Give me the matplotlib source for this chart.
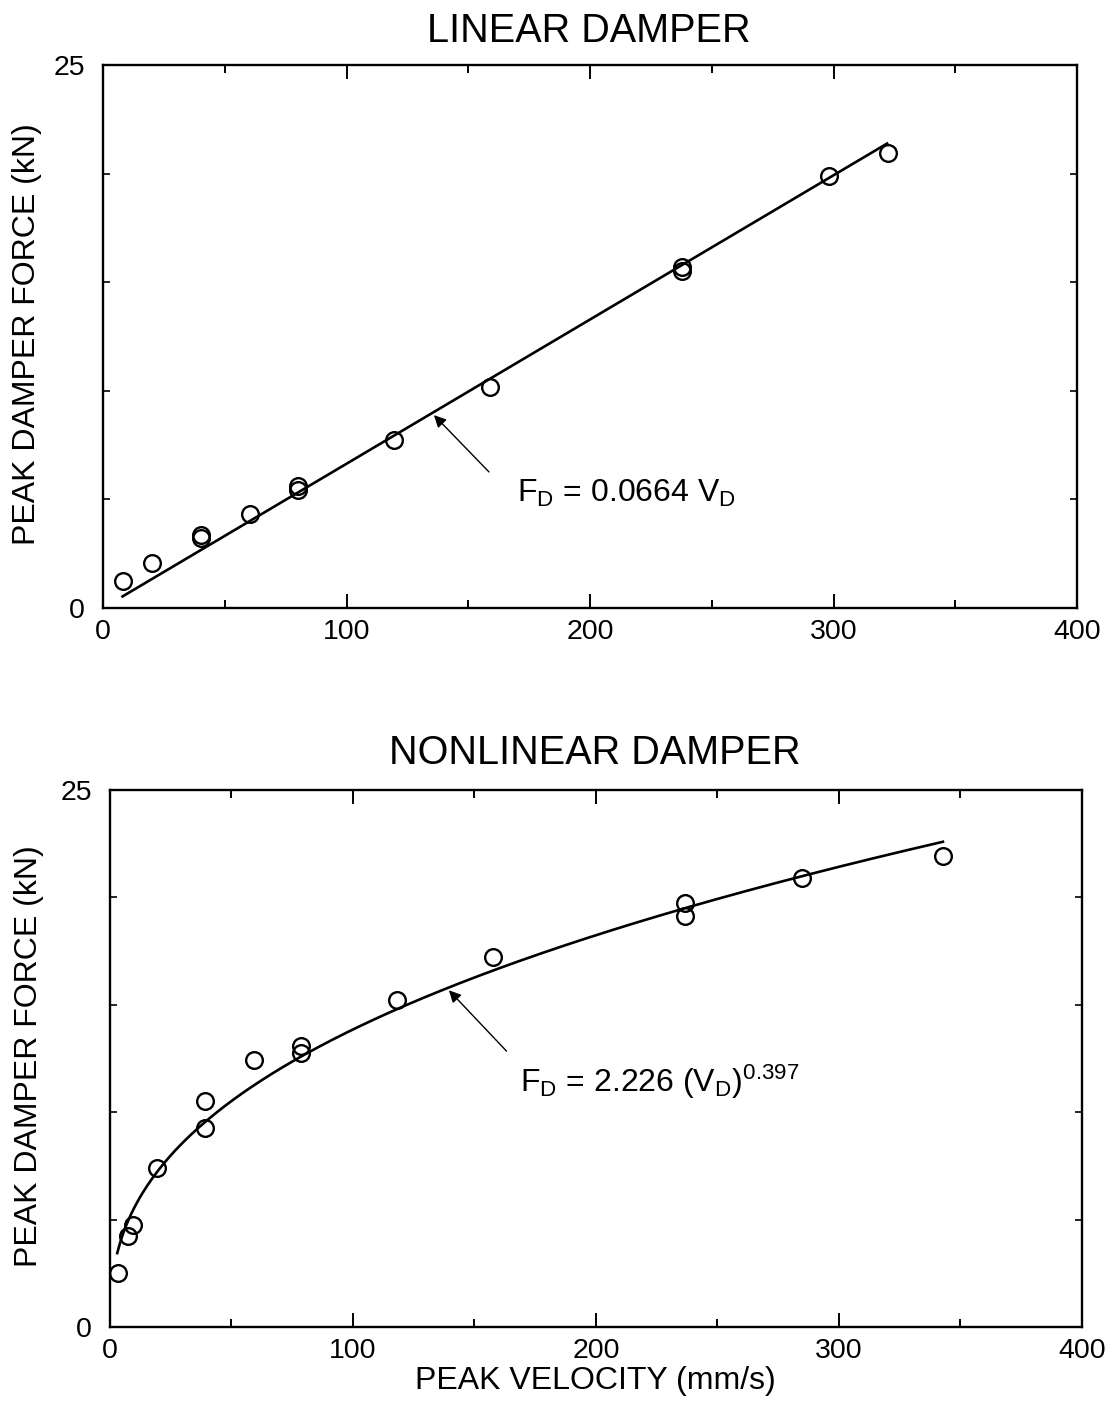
import numpy as np
import matplotlib
matplotlib.use("Agg")
import matplotlib.pyplot as plt
from matplotlib.ticker import FixedLocator

plt.rcParams['font.family'] = ['Liberation Sans', 'DejaVu Sans']
plt.rcParams['mathtext.fontset'] = 'custom'
plt.rcParams['mathtext.rm'] = 'Liberation Sans'
plt.rcParams['mathtext.it'] = 'Liberation Sans:italic'

# Linear damper test data (peak velocity mm/s, peak force kN)
lin_velocity = [8.2, 20.1, 40.2, 40.2, 60.4, 80.1, 80.1, 119.5, 159.0, 237.8, 237.8, 298.2, 322.4]
lin_force = [1.24, 2.07, 3.20, 3.34, 4.33, 5.45, 5.60, 7.73, 10.17, 15.70, 15.52, 19.89, 20.95]
lin_coef = 0.0664
lin_fit_range = (8.0, 322.0)

# Nonlinear damper test data
nl_velocity = [3.3, 7.4, 9.5, 19.3, 39.1, 39.1, 59.3, 78.6, 78.6, 118.0, 157.6, 236.6, 236.6, 284.8, 342.8]
nl_force = [2.51, 4.24, 4.75, 7.40, 10.52, 9.26, 12.43, 13.08, 12.76, 15.22, 17.23, 19.74, 19.13, 20.90, 21.93]
nl_coef = 2.226
nl_exp = 0.397
nl_fit_range = (3.0, 342.8)

x_major = [0, 100, 200, 300, 400]
x_minor = [50, 150, 250, 350]
y_ticks = [0, 5, 10, 15, 20, 25]
y_labels = ['0', '', '', '', '', '25']

fig = plt.figure(figsize=(11.14, 14.08), dpi=100)
ax1 = fig.add_axes([0.0925, 0.5682, 0.8743, 0.3857])
ax2 = fig.add_axes([0.0987, 0.0575, 0.8725, 0.3814])

TICK_FS = 20.5
LABEL_FS = 23


def style_axes(ax):
    ax.set_xlim(0, 400)
    ax.set_ylim(0, 25)
    ax.xaxis.set_major_locator(FixedLocator(x_major))
    ax.xaxis.set_minor_locator(FixedLocator(x_minor))
    ax.set_xticklabels([str(v) for v in x_major], fontsize=TICK_FS)
    ax.yaxis.set_major_locator(FixedLocator(y_ticks))
    ax.set_yticklabels(y_labels, fontsize=TICK_FS)
    ax.tick_params(axis='x', which='major', direction='in', length=10, width=1.4,
                   top=True, bottom=True, pad=8)
    ax.tick_params(axis='x', which='minor', direction='in', length=5.5, width=1.4,
                   top=True, bottom=True)
    ax.tick_params(axis='y', which='major', direction='in', length=5, width=1.2,
                   left=True, right=True, pad=13)
    for s in ax.spines.values():
        s.set_linewidth(1.7)
    ax.set_ylabel('PEAK DAMPER FORCE (kN)', fontsize=LABEL_FS)


marker_kw = dict(linestyle='none', marker='o', ms=12, mfc='none', mec='black', mew=1.7)

# Linear damper panel
style_axes(ax1)
ax1.yaxis.set_label_coords(-0.063, 0.505)
v1 = np.linspace(*lin_fit_range, 50)
ax1.plot(v1, lin_coef * v1, color='black', lw=1.9)
ax1.plot(lin_velocity, lin_force, **marker_kw)
ax1.annotate('', xy=(135.1, lin_coef * 135.1), xytext=(159.3, 6.17),
             arrowprops=dict(arrowstyle='-|>', color='black', lw=1.0, mutation_scale=18))
ax1.text(170, 4.88, r'F$_{\rm D}$ = 0.0664 V$_{\rm D}$', fontsize=LABEL_FS,
         ha='left', va='baseline')
ax1.text(0.499, 1.043, 'LINEAR DAMPER', transform=ax1.transAxes, fontsize=28.5,
         ha='center', va='baseline')

# Nonlinear damper panel
style_axes(ax2)
ax2.yaxis.set_label_coords(-0.068, 0.505)
v2 = np.linspace(*nl_fit_range, 300)
ax2.plot(v2, nl_coef * v2 ** nl_exp, color='black', lw=1.9)
ax2.plot(nl_velocity, nl_force, **marker_kw)
ax2.annotate('', xy=(138.7, nl_coef * 138.7 ** nl_exp), xytext=(164.0, 12.75),
             arrowprops=dict(arrowstyle='-|>', color='black', lw=1.0, mutation_scale=18))
ax2.text(168.7, 10.94, r'F$_{\rm D}$ = 2.226 (V$_{\rm D}$)$^{0.397}$', fontsize=LABEL_FS,
         ha='left', va='baseline')
ax2.text(0.499, 1.048, 'NONLINEAR DAMPER', transform=ax2.transAxes, fontsize=28.5,
         ha='center', va='baseline')
ax2.set_xlabel('PEAK VELOCITY (mm/s)', fontsize=LABEL_FS)
ax2.xaxis.set_label_coords(0.499, -0.073)

fig.savefig('out.png', dpi=100)
